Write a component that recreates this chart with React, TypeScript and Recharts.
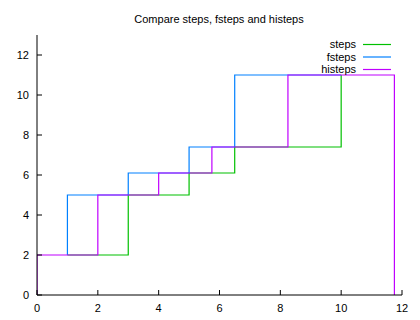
import React from 'react';
import { LineChart, Line, XAxis, YAxis } from 'recharts';

const xValues = [1, 3, 5, 6.5, 10];
const yValues = [2, 5, 6.1, 7.4, 11];
const seriesNames = ['steps', 'fsteps', 'histeps'];
const seriesColors = ['#00c000', '#0080ff', '#c000ff'];
const xTicks = [0, 2, 4, 6, 8, 10, 12];
const yTicks = [0, 2, 4, 6, 8, 10, 12];
const titleText = 'Compare steps, fsteps and histeps';

type P = { x: number; y: number };

const basePoints: P[] = xValues.map((x, i) => ({ x, y: yValues[i] }));

function buildSteps(p: P[]): P[] {
  const out: P[] = [];
  p.forEach((pt, i) => {
    if (i > 0) out.push({ x: pt.x, y: p[i - 1].y });
    out.push(pt);
  });
  return out;
}
function buildFsteps(p: P[]): P[] {
  const out: P[] = [];
  p.forEach((pt, i) => {
    if (i > 0) out.push({ x: p[i - 1].x, y: pt.y });
    out.push(pt);
  });
  return out;
}
function buildHisteps(p: P[]): P[] {
  const n = p.length;
  const edges: number[] = [];
  edges.push(p[0].x - (p[1].x - p[0].x) / 2);
  for (let i = 0; i < n - 1; i++) edges.push((p[i].x + p[i + 1].x) / 2);
  edges.push(p[n - 1].x + (p[n - 1].x - p[n - 2].x) / 2);
  const out: P[] = [{ x: edges[0], y: 0 }];
  for (let i = 0; i < n; i++) {
    out.push({ x: edges[i], y: p[i].y });
    out.push({ x: edges[i + 1], y: p[i].y });
  }
  out.push({ x: edges[n], y: 0 });
  return out;
}

const seriesData = [buildSteps(basePoints), buildFsteps(basePoints), buildHisteps(basePoints)];

const font = '"Liberation Sans", Arial, sans-serif';
const tickStyle = { fontSize: 11, fill: '#000', fontFamily: font };

export default function App() {
  return (
    <div style={{ position: 'absolute', left: 0, top: 0, width: 420, height: 320, background: '#fff' }}>
      <LineChart width={420} height={320} margin={{ top: 35, right: 18, bottom: 0, left: 0 }}>
        <XAxis
          xAxisId="b"
          type="number"
          dataKey="x"
          domain={[0, 12]}
          ticks={xTicks}
          allowDataOverflow
          height={25}
          tickSize={-5}
          tickMargin={14}
          tick={tickStyle}
          stroke="#000"
        />
        <XAxis
          xAxisId="t"
          orientation="top"
          type="number"
          dataKey="x"
          domain={[0, 12]}
          ticks={xTicks}
          allowDataOverflow
          height={0}
          tickSize={-5}
          tick={false}
          stroke="#000"
        />
        <YAxis
          yAxisId="l"
          type="number"
          domain={[0, 13]}
          ticks={yTicks}
          allowDataOverflow
          width={37}
          tickSize={-5}
          tickMargin={13}
          tick={tickStyle}
          stroke="#000"
        />
        <YAxis
          yAxisId="r"
          orientation="right"
          type="number"
          domain={[0, 13]}
          ticks={yTicks}
          allowDataOverflow
          width={0}
          tickSize={-5}
          tick={false}
          stroke="#000"
        />
        {seriesNames.map((name, i) => (
          <Line
            key={name}
            name={name}
            data={seriesData[i]}
            dataKey="y"
            xAxisId="b"
            yAxisId="l"
            type="linear"
            stroke={seriesColors[i]}
            strokeWidth={1.2}
            dot={false}
            activeDot={false}
            isAnimationActive={false}
          />
        ))}
      </LineChart>
      <div style={{ position: 'absolute', left: 0, top: 13, width: 438, textAlign: 'center', fontSize: 11, fontFamily: font, color: '#000' }}>
        {titleText}
      </div>
      <svg width={420} height={320} style={{ position: 'absolute', left: 0, top: 0, pointerEvents: 'none' }}>
        {seriesNames.map((name, i) => (
          <g key={name}>
            <text x={356} y={48 + i * 12.5} textAnchor="end" fontSize={11} fontFamily={font} fill="#000">{name}</text>
            <line x1={363} x2={391} y1={44.5 + i * 12.5} y2={44.5 + i * 12.5} stroke={seriesColors[i]} strokeWidth={1.2} />
          </g>
        ))}
      </svg>
    </div>
  );
}
